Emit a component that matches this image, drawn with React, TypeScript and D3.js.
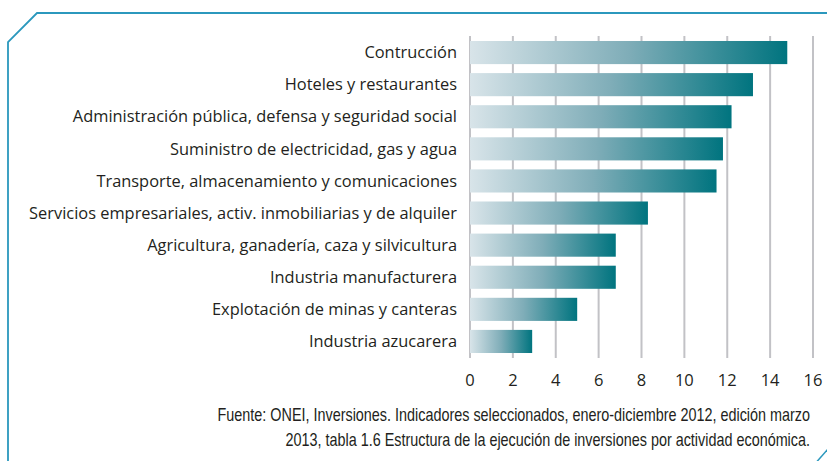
import React from "react";
import * as d3 from "d3";

const categories = [
  "Contrucción",
  "Hoteles y restaurantes",
  "Administración pública, defensa y seguridad social",
  "Suministro de electricidad, gas y agua",
  "Transporte, almacenamiento y comunicaciones",
  "Servicios empresariales, activ. inmobiliarias y de alquiler",
  "Agricultura, ganadería, caza y silvicultura",
  "Industria manufacturera",
  "Explotación de minas y canteras",
  "Industria azucarera",
];
const values = [14.8, 13.2, 12.2, 11.8, 11.5, 8.3, 6.8, 6.8, 5.0, 2.9];
const ticks = [0, 2, 4, 6, 8, 10, 12, 14, 16];
const footnote = [
  "Fuente: ONEI, Inversiones. Indicadores seleccionados, enero-diciembre 2012, edición marzo",
  "2013, tabla 1.6 Estructura de la ejecución de inversiones por actividad económica.",
];

export default function App() {
  const W = 827, H = 461;
  const x = d3.scaleLinear().domain([0, 16]).range([470, 813]);
  const y = d3.scaleBand().domain(categories).range([36.5, 357.5]).paddingInner(0.28).paddingOuter(0.14);
  const font = "'Open Sans', sans-serif";
  const textColor = "#231f20";
  const sx = 0.8;
  return (
    <svg width={W} height={H} style={{ position: "absolute", left: 0, top: 0 }}>
      <defs>
        <linearGradient id="barGrad" x1="0" x2="1" y1="0" y2="0">
          <stop offset="0%" stopColor="#d8e4e9" />
          <stop offset="50%" stopColor="#7fadb8" />
          <stop offset="100%" stopColor="#00747f" />
        </linearGradient>
      </defs>
      <rect x={0} y={0} width={W} height={H} fill="#fff" />
      <path d="M8,461 L8,42 L37,13 L827,13" fill="none" stroke="#2b98bd" strokeWidth={1.8} />
      <path d="M817,461.5 L828,449" fill="none" stroke="#2b98bd" strokeWidth={1.5} />
      {ticks.map((t) => (
        <line key={t} x1={x(t)} x2={x(t)} y1={36} y2={358} stroke="#c2c2c6" strokeWidth={2} />
      ))}
      {categories.map((c, i) => (
        <g key={c}>
          <rect
            x={x(0)}
            y={y(c)}
            width={x(values[i]) - x(0)}
            height={y.bandwidth()}
            fill="url(#barGrad)"
          />
          <text
            x={457}
            y={(y(c) as number) + y.bandwidth() / 2}
            dy="0.35em"
            textAnchor="end"
            fontFamily={font}
            fontSize={16.4}
            fill={textColor}
          >
            {c}
          </text>
        </g>
      ))}
      {ticks.map((t) => (
        <text key={t} x={x(t)} y={386} textAnchor="middle" fontFamily={font} fontSize={16.5} fill={textColor}>
          {t}
        </text>
      ))}
      {footnote.map((f, i) => (
        <text
          key={i}
          transform={`translate(810,${421 + i * 25}) scale(${sx},1)`}
          textAnchor="end"
          fontFamily="'Liberation Sans Narrow', 'Arial Narrow', sans-serif"
          fontSize={18}
          fill={textColor}
        >
          {f}
        </text>
      ))}
    </svg>
  );
}
